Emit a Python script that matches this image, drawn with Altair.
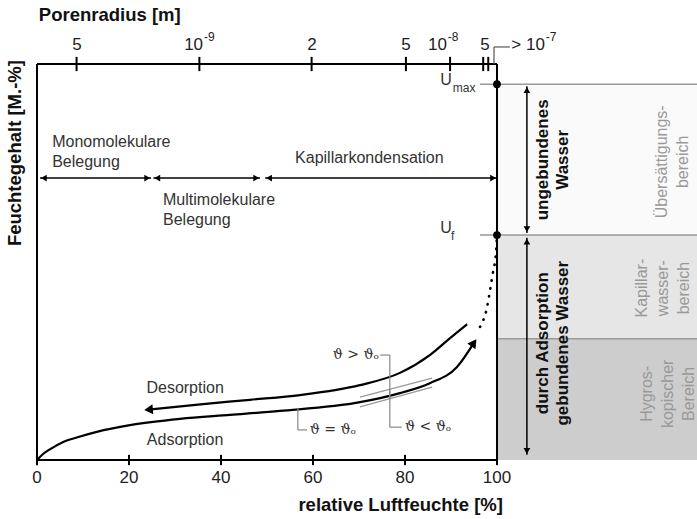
import math
import altair as alt
import pandas as pd

# x: relative humidity in %, extended to the right for the zone panel
# y: moisture content in % of the diagram height
X_END = 143.48
W, H = 660, 396
xs = alt.Scale(domain=[0, X_END], nice=False, zero=False)
ys = alt.Scale(domain=[0, 100], nice=False, zero=False)
PX_X = W / X_END
PX_Y = H / 100

FONT = "Liberation Sans"
INK = "#333333"
GREY = "#999999"

# bottom axis: relative humidity
rh_ticks = [0, 20, 40, 60, 80, 100]
rh_labels = ["0", "20", "40", "60", "80", "100"]

# top axis: pore radius at the humidity where it applies
pore_ticks = [8.6, 35.3, 59.7, 80.2, 89.8, 97.0, 98.1]
pore_plain_text = ["5", "2", "5", "5"]
pore_plain_x = [8.7, 59.8, 80.2, 97.4]
pore_pow_base = ["10", "10", "> 10"]
pore_pow_exp = ["-9", "-8", "-7"]
pore_pow_x = [36.1, 89.1, 110.4]

# sorption isotherms
ads_x = [0, 1.2, 2.8, 5.6, 9.0, 13.0, 20.2, 31.1, 42.0, 52.8, 70.2, 78.9, 85.4, 91.3, 94.98]
ads_y = [0, 1.4, 2.7, 4.5, 5.8, 7.1, 8.8, 10.4, 11.4, 12.4, 14.6, 16.9, 19.4, 23.5, 29.6]
ads_tip = (95.7, 30.8)
des_x = [24.25, 35.0, 46.3, 57.2, 70.2, 78.9, 85.4, 89.8, 93.5]
des_y = [12.73, 14.0, 15.2, 16.4, 18.9, 22.0, 26.5, 30.8, 34.3]
des_tip = (23.0, 12.6)
cap_x = [96.3, 97.8, 98.5, 99.1, 99.8, 100]
cap_y = [33.6, 38.4, 42.9, 47.2, 52.5, 56.8]

# adsorption at other temperatures
warm_x, warm_y = [70.2, 85.9], [13.4, 18.4]
cold_x, cold_y = [70.2, 85.9], [15.9, 20.7]

# characteristic moisture levels
U_MAX, U_F, U_HYG = 94.9, 56.8, 30.6

# zones on the right
band_top = [U_MAX, U_F, U_HYG]
band_bottom = [U_F, U_HYG, 0]
band_fill = ["#fafafa", "#e6e6e6", "#cdcdcd"]

# sorption regimes along the humidity axis (text y is the first line)
reg_start = [0.65, 25.3, 49.6]
reg_end = [24.8, 48.5, 100]
REG_Y = 71.2
reg_text = ["Monomolekulare\nBelegung", "Multimolekulare\nBelegung", "Kapillarkondensation"]
reg_text_x = [3.3, 27.4, 56.1]
reg_text_y = [80.3, 65.7, 76.3]

# water binding ranges
WATER_X = 106.5
water_top = [94.4, 56.1]
water_bottom = [57.3, 1.3]


def enc(chart):
    return chart.encode(
        x=alt.X("x:Q", scale=xs, axis=None),
        y=alt.Y("y:Q", scale=ys, axis=None),
    )


def rules(x, x2, y, y2, color="black", width=2.0):
    df = pd.DataFrame({"x": x, "x2": x2, "y": y, "y2": y2})
    return enc(alt.Chart(df).mark_rule(color=color, strokeWidth=width)).encode(
        x2="x2:Q", y2="y2:Q")


def curve(x, y, **kw):
    df = pd.DataFrame({"x": x, "y": y, "i": list(range(len(x)))})
    return enc(alt.Chart(df).mark_line(**kw)).encode(order="i:Q")


def texts(x, y, t, **kw):
    kw.setdefault("font", FONT)
    kw.setdefault("color", INK)
    df = pd.DataFrame({"x": x, "y": y, "t": t})
    return enc(alt.Chart(df).mark_text(lineBreak="\n", **kw)).encode(text="t:N")


def head_center(tx, ty, ang, size):
    apex = 1.1547 * math.sqrt(size) / 2
    dx = math.sin(math.radians(ang)) * apex
    dy = -math.cos(math.radians(ang)) * apex
    return tx - dx / PX_X, ty + dy / PX_Y


def heads(tips, angles, size):
    pts = [head_center(tx, ty, a, size) for (tx, ty), a in zip(tips, angles)]
    df = pd.DataFrame({"x": [p[0] for p in pts], "y": [p[1] for p in pts], "a": angles})
    return enc(alt.Chart(df).mark_point(shape="triangle-up", filled=True, color="black",
                                        opacity=1, size=size, strokeWidth=0)).encode(
        angle=alt.Angle("a:Q", scale=None))


layers = []

# zone panel
band_df = pd.DataFrame({"x": [100] * 3, "x2": [X_END] * 3,
                        "y": band_top, "y2": band_bottom, "f": band_fill})
layers.append(enc(alt.Chart(band_df).mark_rect()).encode(
    x2="x2:Q", y2="y2:Q", color=alt.Color("f:N", scale=None)))
layers.append(rules([96.3, 96.3, 100], [X_END] * 3, [U_MAX, U_F, U_HYG], [U_MAX, U_F, U_HYG],
                    color=GREY, width=1.5))

# frame and axes
layers.append(rules([0, 0, 0, 100], [0, 100, 100, 100], [0, 0, 100, 0], [100, 0, 100, 100]))
layers.append(rules(rh_ticks, rh_ticks, [-1.3] * 6, [1.3] * 6))
layers.append(rules(pore_ticks, pore_ticks, [98.2] * len(pore_ticks), [101.8] * len(pore_ticks)))
layers.append(rules([99.35, 99.35], [99.35, 102.8], [100, 104.3], [104.3, 104.3],
                    color="#555555", width=1.2))

layers.append(texts(rh_ticks, [-4.5] * 6, rh_labels, fontSize=17, color="#222222"))
layers.append(texts(pore_plain_x, [104.8] * 4, pore_plain_text, fontSize=17, color="#222222"))
layers.append(texts(pore_pow_x, [104.8] * 3, pore_pow_base, fontSize=17, color="#222222",
                    align="right"))
layers.append(texts(pore_pow_x, [106.8] * 3, pore_pow_exp, fontSize=12, color="#222222",
                    align="left", dx=1))
layers.append(texts([0.4], [112.4], ["Porenradius [m]"], fontSize=18.5, fontWeight="bold",
                    color="#111111", align="left"))
layers.append(texts([101.3], [-11.4], ["relative Luftfeuchte [%]"], fontSize=18.5,
                    fontWeight="bold", color="#111111", align="right"))
layers.append(texts([-4.8], [77.5], ["Feuchtegehalt [M.-%]"], fontSize=18.5,
                    fontWeight="bold", color="#111111", angle=270))

# sorption regimes
layers.append(rules(reg_start, reg_end, [REG_Y] * 3, [REG_Y] * 3, width=1.5))
layers.append(heads([(s, REG_Y) for s in reg_start] + [(e, REG_Y) for e in reg_end],
                    [270] * 3 + [90] * 3, 45))
layers.append(texts(reg_text_x, reg_text_y, reg_text, fontSize=16, align="left", lineHeight=20))

# isotherms
layers.append(curve(warm_x, warm_y, color=GREY, strokeWidth=1.3))
layers.append(curve(cold_x, cold_y, color=GREY, strokeWidth=1.3))
layers.append(curve(ads_x, ads_y, color="black", strokeWidth=2.2, interpolate="monotone"))
layers.append(curve(des_x, des_y, color="black", strokeWidth=2.2, interpolate="monotone"))
layers.append(curve(cap_x, cap_y, color="black", strokeWidth=2.6, strokeDash=[0.5, 7.5],
                    strokeCap="round", interpolate="monotone"))
layers.append(heads([ads_tip, des_tip], [35, 265], 100))
layers.append(texts([32.2, 32.2], [18.2, 5.05], ["Desorption", "Adsorption"], fontSize=16))

# temperature annotations
layers.append(rules([74.6, 76.7, 76.7, 76.7, 56.7, 56.7],
                    [76.7, 76.7, 76.7, 79.3, 56.7, 58.7],
                    [26.5, 26.5, 17.9, 8.3, 13.1, 7.6],
                    [26.5, 15.5, 8.3, 8.3, 7.6, 7.6], color="#888888", width=1.2))
layers.append(texts([64.3, 59.3, 80.0], [26.5, 7.6, 8.3],
                    ["\u03d1 > \u03d1\u2092", "\u03d1 = \u03d1\u2092", "\u03d1 < \u03d1\u2092"],
                    font="DejaVu Serif", fontSize=14, align="left"))

# characteristic moisture levels
layers.append(enc(alt.Chart(pd.DataFrame({"x": [100, 100], "y": [U_MAX, U_F]}))
                  .mark_point(shape="circle", filled=True, color="black", opacity=1, size=60)))
layers.append(texts([88.9, 88.9], [96.0, 58.6], ["U", "U"], fontSize=16))
layers.append(texts([90.4, 90.0], [93.9, 56.6], ["max", "f"], fontSize=12, align="left"))

# water binding ranges (rotated texts: x is the first line, further lines to its right)
layers.append(rules([WATER_X] * 2, [WATER_X] * 2, water_top, water_bottom, width=1.5))
layers.append(heads([(WATER_X, t) for t in water_top] + [(WATER_X, b) for b in water_bottom],
                    [0, 0, 180, 180], 45))
layers.append(texts([110.0, 110.0], [75.8, 29.5],
                    ["ungebundenes\nWasser", "durch Adsorption\ngebundenes Wasser"],
                    fontSize=17, fontWeight="bold", color="#111111", angle=270, lineHeight=20))
layers.append(texts([135.9], [75.3], ["\u00dcbers\u00e4ttigungs-\nbereich"],
                    fontSize=16, color=GREY, angle=270, lineHeight=21))
layers.append(texts([131.5, 132.6], [43.4, 16.7],
                    ["Kapillar-\nwasser-\nbereich", "Hygros-\nkopischer\nBereich"],
                    fontSize=16, color=GREY, angle=270, lineHeight=21))

chart = alt.layer(*layers).properties(
    width=W, height=H,
    autosize=alt.AutoSizeParams(type="none"),
    padding={"left": 37, "top": 64, "right": 0, "bottom": 59},
    background="white",
).configure_view(strokeWidth=0)

chart.save("out.html", embed_options={"renderer": "svg", "actions": False})
